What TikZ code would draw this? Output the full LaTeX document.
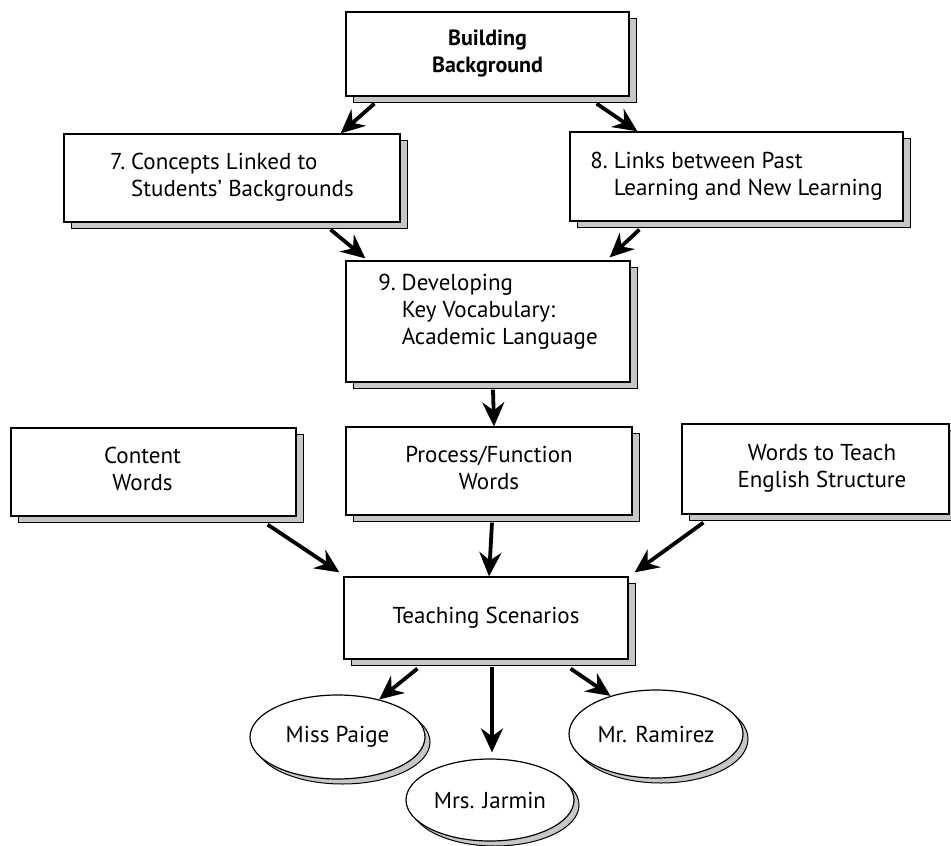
\documentclass[tikz,border=0pt]{standalone}
\usepackage{fontspec}
\setmainfont{PT Sans}
\usetikzlibrary{arrows.meta, shadows, shapes.geometric}

\tikzset{
  box/.style={draw, line width=1.2pt, fill=white, inner sep=0pt,
    font=\fontsize{23}{27}\selectfont,
    general shadow={shadow xshift=7pt, shadow yshift=-6pt, fill=black!22, draw=black, line width=1pt}},
  oval/.style={ellipse, draw, line width=1.2pt, fill=white, inner sep=0pt,
    font=\fontsize{23}{27}\selectfont,
    general shadow={shadow xshift=5pt, shadow yshift=-5pt, fill=black!22, draw=black, line width=1pt}},
  arr/.style={line width=3.8pt, -{Stealth[length=24pt, width=22pt, inset=8pt]}}
}
\newcommand{\numlines}[3]{\begin{tabular}{@{}l@{\hspace{6pt}}l@{}}#1 & #2\\ & #3\end{tabular}}

\begin{document}
\begin{tikzpicture}[x=1pt, y=-1pt]
\useasboundingbox (0,0) rectangle (951,846);

% top row
\node[box, font=\fontsize{22}{27}\selectfont\bfseries, align=center,
  minimum width=283pt, minimum height=84pt] (bb) at (487.5,54) {Building\\Background};
\node[box, minimum width=336pt, minimum height=88pt] (c7) at (232,178)
  {\numlines{7.}{Concepts Linked to}{Students’ Backgrounds}};
\node[box, minimum width=333pt, minimum height=89pt] (c8) at (736.5,176.5)
  {\numlines{8.}{Links between Past}{Learning and New Learning}};
\node[box, minimum width=284pt, minimum height=121pt] (c9) at (488,321.5)
  {\begin{tabular}{@{}l@{\hspace{6pt}}l@{}}9. & Developing\\ & Key Vocabulary:\\ & Academic Language\\[18pt]\end{tabular}};

% word kinds
\node[box, minimum width=285pt, minimum height=88pt] (cw) at (153.5,472)
  {\begin{tabular}{@{}c@{\hspace{22pt}}}Content\\Words\end{tabular}};
\node[box, minimum width=286pt, minimum height=88pt] (pf) at (489,471)
  {\begin{tabular}{@{}c@{}}Process/Function\\Words\end{tabular}};
\node[box, minimum width=267pt, minimum height=90pt] (we) at (815.5,469)
  {\begin{tabular}{@{\hspace{13pt}}c@{}}Words to Teach\\English Structure\end{tabular}};

\node[box, minimum width=284pt, minimum height=82pt] (ts) at (486,618) {Teaching Scenarios};

% teachers
\node[oval, minimum width=175pt, minimum height=84pt] (mp) at (337.5,737) {Miss Paige};
\node[oval, minimum width=168pt, minimum height=82pt] (mj) at (490,800) {Mrs. Jarmin};
\node[oval, minimum width=174pt, minimum height=88pt] (mr) at (656,734) {Mr. Ramirez};

% arrows
\draw[arr] ([xshift=29pt, yshift=-7pt]bb.south west) -- ([xshift=-60pt]c7.north east);
\draw[arr] ([xshift=-33pt, yshift=-7pt]bb.south east) -- ([xshift=68pt]c8.north west);
\draw[arr] ([xshift=-70pt, yshift=-7pt]c7.south east) -- ([xshift=20pt, yshift=2pt]c9.north west);
\draw[arr] ([xshift=70pt, yshift=-8pt]c8.south west) -- ([xshift=-21pt, yshift=3pt]c9.north east);
\draw[arr] ([xshift=5pt, yshift=-7pt]c9.south) -- ([xshift=5pt]pf.north);
\draw[arr] ([xshift=-29pt, yshift=-8pt]cw.south east) -- ([xshift=-4pt, yshift=4pt]ts.north west);
\draw[arr] ([xshift=3pt, yshift=-7pt]pf.south) -- ([xshift=3pt]ts.north);
\draw[arr] ([xshift=22pt, yshift=-8pt]we.south west) -- ([xshift=6pt, yshift=4pt]ts.north east);
\draw[arr] ([xshift=74pt, yshift=-9pt]ts.south west) -- (mp.42);
\draw[arr, shorten >=6pt] ([xshift=6pt, yshift=-7pt]ts.south) -- ([xshift=2pt]mj.north);
\draw[arr] ([xshift=-58pt, yshift=-9pt]ts.south east) -- (mr.140);
\end{tikzpicture}
\end{document}
